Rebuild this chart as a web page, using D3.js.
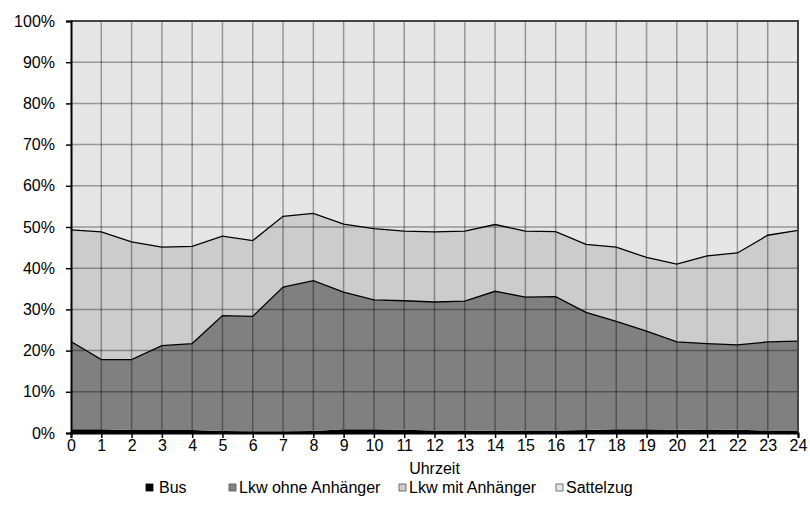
<!DOCTYPE html>
<html><head><meta charset="utf-8">
<script src="https://cdn.jsdelivr.net/npm/d3@7"></script>
<style>body{margin:0;background:#fff}svg{display:block;font-family:"Liberation Sans",Arial,sans-serif}</style>
</head><body><svg id="c" width="810" height="525"></svg>
<script>
const hours = d3.range(0, 25);
const seriesNames = ["Bus", "Lkw ohne Anhänger", "Lkw mit Anhänger", "Sattelzug"];
const bus      = [0.9,0.9,0.7,0.7,0.7,0.5,0.4,0.4,0.5,0.9,0.9,0.8,0.6,0.6,0.5,0.6,0.6,0.7,0.9,0.9,0.8,0.7,0.8,0.6,0.6];
const lkwOhne  = [21.3,16.9,17.1,20.5,21.0,28.0,27.9,35.0,36.5,33.3,31.4,31.3,31.2,31.4,33.9,32.4,32.5,28.6,26.2,23.8,21.3,21.0,20.6,21.5,21.7];
const lkwMit   = [27.1,31.0,28.6,23.9,23.6,19.3,18.4,17.2,16.3,16.5,17.3,16.9,17.0,17.0,16.2,16.0,15.8,16.5,18.0,17.9,18.9,21.3,22.3,25.9,26.9];
const sattel   = [50.7,51.2,53.6,54.9,54.7,52.2,53.3,47.4,46.7,49.3,50.4,51.0,51.2,51.0,49.4,51.0,51.1,54.2,54.9,57.4,59.0,57.0,56.3,52.0,50.8];
const yTicks = [0,10,20,30,40,50,60,70,80,90,100];
const colors = ["#000000", "#808080", "#cccccc", "#e6e6e6"];

const rows = hours.map((h,i)=>({h, "Bus":bus[i], "Lkw ohne Anhänger":lkwOhne[i], "Lkw mit Anhänger":lkwMit[i], "Sattelzug":sattel[i]}));
const stack = d3.stack().keys(seriesNames).offset(d3.stackOffsetExpand);
const layers = stack(rows);

const svg = d3.select("#c");
const L=71, R=798, T=21, B=433;
const FS = 16;
const x = d3.scaleLinear().domain([0,24]).range([L,R]);
const y = d3.scaleLinear().domain([0,1]).range([B,T]);

const area = d3.area().x(d=>x(d.data.h)).y0(d=>y(d[0])).y1(d=>y(d[1]));
svg.append("g").selectAll("path").data(layers).join("path")
  .attr("d", area).attr("fill",(d,i)=>colors[i]);

// gridlines
const g = svg.append("g").attr("stroke","#000").attr("stroke-opacity",0.35).attr("stroke-width",1.5);
hours.forEach(h=>{ if(h>0&&h<24) g.append("line").attr("x1",x(h)).attr("x2",x(h)).attr("y1",T).attr("y2",B); });
yTicks.forEach(t=>{ if(t>0&&t<100) g.append("line").attr("x1",L).attr("x2",R).attr("y1",y(t/100)).attr("y2",y(t/100)); });

// boundary lines
const line = d3.line().x(d=>x(d.data.h)).y(d=>y(d[1]));
[1,2].forEach(i=>{
  svg.append("path").attr("d",line(layers[i])).attr("fill","none").attr("stroke","#000").attr("stroke-width",1.3);
});

// border top & right
svg.append("path").attr("d",`M${L},${T}H${R}V${B}`).attr("fill","none").attr("stroke","#444").attr("stroke-width",2);

// axes
const yAxis = d3.axisLeft(y).tickValues(yTicks.map(t=>t/100)).tickFormat((d,i)=>yTicks[i]+"%").tickSize(5).tickPadding(11);
const ya = svg.append("g").attr("transform",`translate(${L},0)`).call(yAxis);
const xAxis = d3.axisBottom(x).tickValues(hours).tickFormat(d=>d).tickSize(5).tickPadding(2);
const xa = svg.append("g").attr("transform",`translate(0,${B})`).call(xAxis);
[ya,xa].forEach(a=>{
  a.select(".domain").attr("stroke","#000").attr("stroke-width",2);
  a.selectAll(".tick line").attr("stroke","#000").attr("stroke-width",1.5);
  a.selectAll("text").attr("font-size",FS).attr("fill","#000").attr("font-family","Liberation Sans, Arial, sans-serif");
});
svg.append("text").attr("x",(L+R)/2).attr("y",474).attr("text-anchor","middle")
  .attr("font-size",FS).text("Uhrzeit");

// legend
const legX = [146, 229, 399, 556];
const lg = svg.append("g");
seriesNames.forEach((n,i)=>{
  const gx = legX[i];
  lg.append("rect").attr("x",gx).attr("y",484).attr("width",7).attr("height",7)
    .attr("fill",colors[i]).attr("stroke", i===0?"#000":"#555").attr("stroke-width",0.8);
  lg.append("text").attr("x",gx+(i===0?13:10)).attr("y",493).attr("font-size",FS).text(n);
});
</script></body></html>
